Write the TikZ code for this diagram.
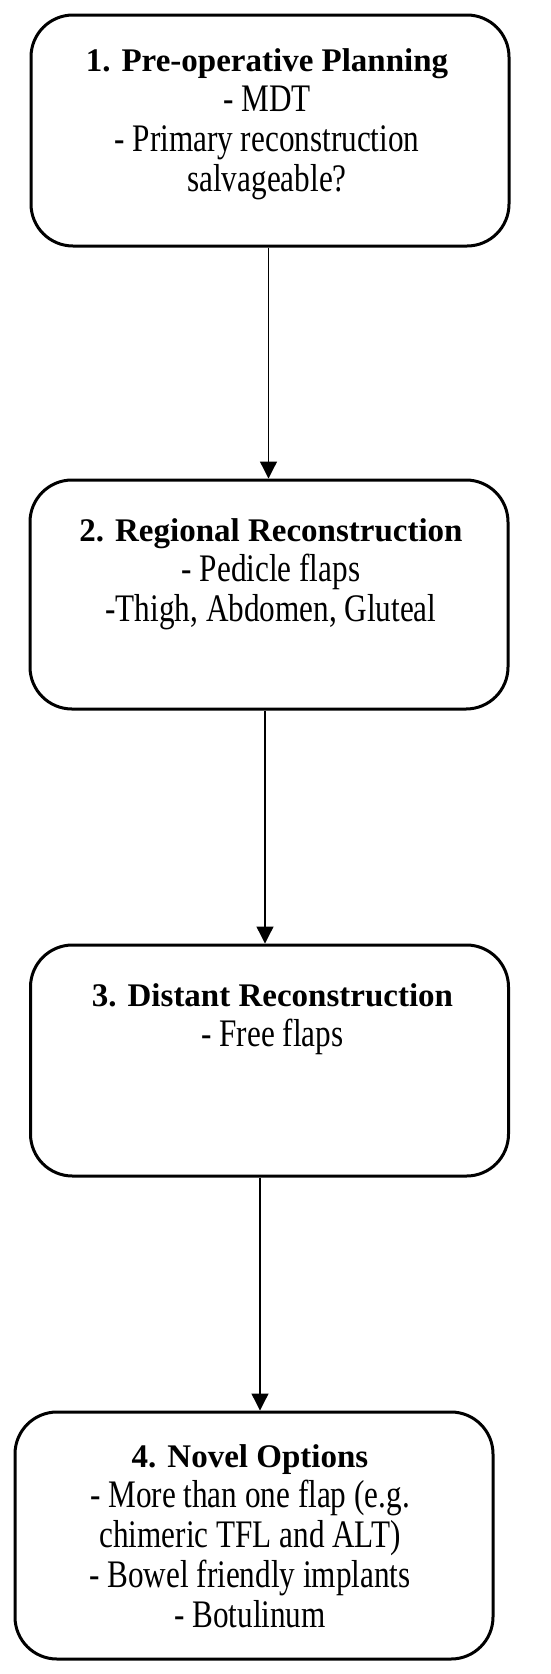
\documentclass[tikz,border=0pt]{standalone}
\usepackage{fontspec}
\setmainfont{Liberation Serif}
\newfontfamily\bodyfam{Liberation Serif}[FakeStretch=0.8]
\usetikzlibrary{arrows.meta}

\newcommand{\titlefont}{\rmfamily\fontsize{33}{40}\selectfont\bfseries}
\newcommand{\bodyfont}{\bodyfam\fontsize{39}{40}\selectfont}

\tikzset{
    stagebox/.style={draw, line width=3pt, rounded corners=42pt, minimum width=478pt, inner sep=0pt},
    stagetext/.style={anchor=north, align=center, inner sep=0pt, font=\bodyfont},
}

\begin{document}
\begin{tikzpicture}[x=1pt, y=1pt, >={Triangle[width=17pt, length=17pt]}, line width=1.3pt]
            \useasboundingbox (0, 0) rectangle (550, -1674);

            % Boxes
            \node[stagebox, minimum height=231pt] (plan) at (270, -130.5) {};
            \node[stagebox, minimum height=229pt] (regional) at (269, -594.5) {};
            \node[stagebox, minimum height=231pt] (distant) at (269.5, -1060.5) {};
            \node[stagebox, minimum height=247pt] (novel) at (254, -1535.5) {};

            % Texts
            \node[stagetext] (plantext) at ([xshift=-3pt, yshift=-34.5pt]plan.north)
                {{\titlefont 1. Pre-operative Planning}\\- MDT\\- Primary reconstruction\\salvageable?};
            \node[stagetext] (regionaltext) at ([xshift=2pt, yshift=-39.5pt]regional.north)
                {{\titlefont 2. Regional Reconstruction}\\- Pedicle flaps\\-Thigh, Abdomen, Gluteal};
            \node[stagetext] (distanttext) at ([xshift=3pt, yshift=-39.5pt]distant.north)
                {{\titlefont 3. Distant Reconstruction}\\- Free flaps};
            \node[stagetext] (noveltext) at ([xshift=-4pt, yshift=-33.5pt]novel.north)
                {{\titlefont 4. Novel Options}\\- More than one flap (e.g.\\chimeric TFL and ALT)\\- Bowel friendly implants\\- Botulinum};

            % Arrows
            \draw[->] ([xshift=-1.5pt]plan.south) -- ([xshift=-1.5pt]plan.south |- regional.north);
            \draw[->] ([xshift=-4pt]regional.south) -- ([xshift=-4pt]regional.south |- distant.north);
            \draw[->] ([xshift=-9.5pt]distant.south) -- ([xshift=-9.5pt]distant.south |- novel.north);

        \end{tikzpicture}
\end{document}
